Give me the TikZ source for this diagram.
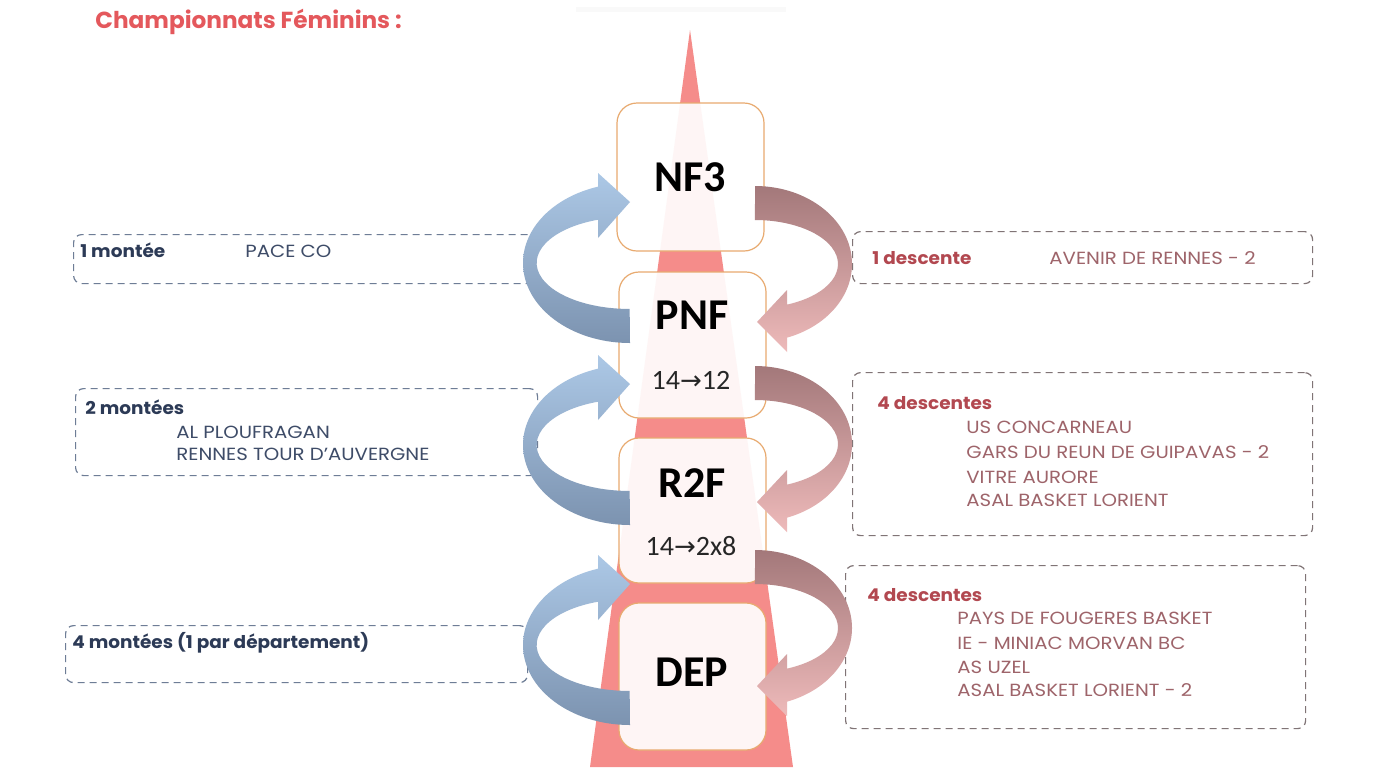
\documentclass[tikz,border=0pt]{standalone}
\usepackage{fontspec}
\setmainfont{Poppins}
\newfontfamily\gothN[FakeStretch=1.12]{Poppins}
\newfontfamily\gothH[FakeStretch=1.05]{Poppins}
\newfontfamily\calib{Carlito}
\newfontfamily\djv{DejaVu Sans}
\definecolor{spike}{RGB}{245,140,138}
\definecolor{boxedge}{RGB}{232,170,112}
\definecolor{blueD}{RGB}{124,147,176}
\definecolor{blueL}{RGB}{172,200,230}
\definecolor{roseD}{RGB}{163,120,122}
\definecolor{roseL}{RGB}{238,186,186}
\definecolor{navyB}{RGB}{44,58,86}
\definecolor{navyN}{RGB}{62,76,104}
\definecolor{redB}{RGB}{178,72,80}
\definecolor{redN}{RGB}{158,100,106}
\definecolor{dashB}{RGB}{110,125,150}
\definecolor{dashR}{RGB}{128,116,118}
\definecolor{titleC}{RGB}{228,88,92}
\tikzset{
  tier/.style={draw=boxedge, line width=0.6pt, fill=white, fill opacity=0.92,
    rounded corners=10pt, minimum width=73.5pt, inner sep=0pt},
  tiername/.style={font=\calib\bfseries\fontsize{22}{22}\selectfont, text=black, inner sep=0pt},
  tiernum/.style={font=\calib\fontsize{14}{14}\selectfont, text=black!85, inner sep=0pt},
  infobox/.style={dashed, dash pattern=on 3.5pt off 2.5pt, line width=0.6pt,
    rounded corners=4pt, inner sep=0pt, anchor=north west},
  infoL/.style={infobox, draw=dashB, minimum width=231pt},
  infoR/.style={infobox, draw=dashR, minimum width=230pt},
  headL/.style={font=\gothH\bfseries\fontsize{8.8}{8.8}\selectfont, text=navyB, anchor=base west, inner sep=0pt},
  nameL/.style={font=\gothN\fontsize{8.8}{8.8}\selectfont, text=navyN, anchor=base west, inner sep=0pt},
  headR/.style={font=\gothH\bfseries\fontsize{8.8}{8.8}\selectfont, text=redB, anchor=base west, inner sep=0pt},
  nameR/.style={font=\gothN\fontsize{8.8}{8.8}\selectfont, text=redN, anchor=base west, inner sep=0pt},
  upturn/.pic={
    \shade[top color=blueL, bottom color=blueD]
      (0,80) arc[start angle=90, end angle=252.6, x radius=107, y radius=80]
      -- (-32,-90) -- (0,-61) -- (-32,-25) -- (-32,-43.3)
      arc[start angle=250.1, end angle=90, x radius=93, y radius=46] -- cycle;
  },
  downturn/.pic={
    \shade[top color=roseD, bottom color=roseL]
      (0,-78) arc[start angle=270, end angle=430.7, x radius=97, y radius=78]
      -- (32,88) -- (2,58) -- (32,26) -- (32,40.6)
      arc[start angle=427.3, end angle=270, x radius=83, y radius=44] -- cycle;
  }
}
\begin{document}
\begin{tikzpicture}[x=0.5pt,y=-0.5pt]
\useasboundingbox (0,0) rectangle (1400,767);
\fill[white] (0,0) rectangle (1400,767);
\fill[black!2.5] (576,7) rectangle (786,12);
% title
\node[font=\bfseries\fontsize{11.6}{11.6}\selectfont, text=titleC, anchor=base west, inner sep=0pt]
  (title) at (95,28) {Championnats Féminins :};
% spike
\fill[spike] (690,30) -- (793,767) -- (590,767) -- cycle;
% tier boxes
\node[tier, minimum height=74pt] (nf3) at (690.5,177) {};
\node[tier, minimum height=73pt] (pnf) at (692.5,345) {};
\node[tier, minimum height=72.5pt] (r2f) at (692.5,510.5) {};
\node[tier, minimum height=73.5pt] (dep) at (692.5,676.5) {};
\node[tiername] (nf3t) at (690,177) {NF3};
\node[tiername] (pnft) at (692,315) {PNF};
\node[tiernum] (pnfn) at (691,380) {14{\djv\fontsize{13}{13}\selectfont →}12};
\node[tiername] (r2ft) at (692,483) {R2F};
\node[tiernum] (r2fn) at (691,546) {14{\djv\fontsize{13}{13}\selectfont →}2x8};
\node[tiername] (dept) at (692,672) {DEP};
% info boxes
\node[infoL, minimum height=24.5pt] (l1) at (73,234) {};
\node[infoL, minimum height=43.5pt] (l2) at (75,388) {};
\node[infoL, minimum height=28.5pt] (l3) at (65,625) {};
\node[infoR, minimum height=26pt] (r1) at (852,231) {};
\node[infoR, minimum height=81.5pt] (r2) at (852,372) {};
\node[infoR, minimum height=81.5pt] (r3) at (845,565) {};
% arrows
\pic (up1) at (630,263) {upturn};
\pic (up2) at (630,445) {upturn};
\pic (up3) at (630,645) {upturn};
\pic (dn1) at (755,264) {downturn};
\pic (dn2) at (755,444) {downturn};
\pic (dn3) at (755,628) {downturn};
% texts left
\node[headL] (l1h) at (80,257) {1 montée};
\node[nameL] (l1a) at (245,257) {PACE CO};
\node[headL] (l2h) at (85,414) {2 montées};
\node[nameL] (l2a) at (176,438) {AL PLOUFRAGAN};
\node[nameL] (l2b) at (176,460) {RENNES TOUR D’AUVERGNE};
\node[headL] (l3h) at (72,648) {4 montées (1 par département)};
% texts right
\node[headR] (r1h) at (872,264) {1 descente};
\node[nameR] (r1a) at (1049,264) {AVENIR DE RENNES - 2};
\node[headR] (r2h) at (877,409) {4 descentes};
\node[nameR] (r2a) at (966,433) {US CONCARNEAU};
\node[nameR] (r2b) at (966,458) {GARS DU REUN DE GUIPAVAS - 2};
\node[nameR] (r2c) at (966,483) {VITRE AURORE};
\node[nameR] (r2d) at (966,506) {ASAL BASKET LORIENT};
\node[headR] (r3h) at (867,601) {4 descentes};
\node[nameR] (r3a) at (957,624) {PAYS DE FOUGERES BASKET};
\node[nameR] (r3b) at (957,649) {IE - MINIAC MORVAN BC};
\node[nameR] (r3c) at (957,673) {AS UZEL};
\node[nameR] (r3d) at (957,696) {ASAL BASKET LORIENT - 2};
\end{tikzpicture}
\end{document}
